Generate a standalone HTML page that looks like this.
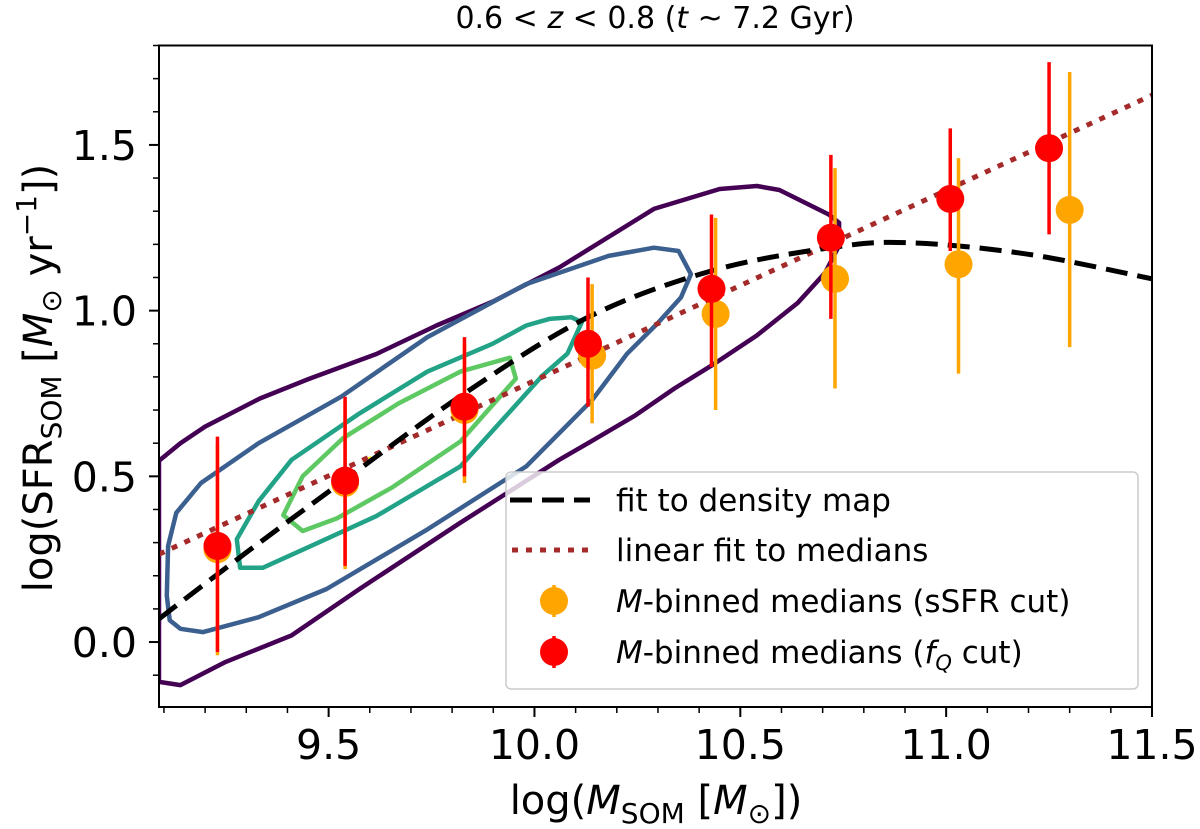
<!DOCTYPE html>
<html><head><meta charset="utf-8"><style>
html,body{margin:0;padding:0;background:#fff;}
svg{display:block;font-family:"DejaVu Sans","Liberation Sans",sans-serif;}
</style></head><body>
<svg id="chart" width="1200" height="829" viewBox="0 0 1200 829" xmlns="http://www.w3.org/2000/svg">
<g id="contours"></g>
<g id="fits"></g>
<g id="points"></g>
<g id="axes"></g>
<g id="legend"></g>
<text x="655" y="28" text-anchor="middle" font-size="30">0.6 &lt; <tspan font-style="italic">z</tspan> &lt; 0.8 (<tspan font-style="italic">t</tspan> ~ 7.2 Gyr)</text>
<text x="656" y="814" text-anchor="middle" font-size="40">log(<tspan font-style="italic">M</tspan><tspan font-size="28" dy="9">SOM</tspan><tspan dy="-9"> [</tspan><tspan font-style="italic">M</tspan><tspan font-size="28" dy="9">⊙</tspan><tspan dy="-9">])</tspan></text>
<text transform="translate(52,378) rotate(-90)" text-anchor="middle" font-size="40">log(SFR<tspan font-size="28" dy="9">SOM</tspan><tspan dy="-9"> [</tspan><tspan font-style="italic">M</tspan><tspan font-size="28" dy="9">⊙</tspan><tspan dy="-9"> yr</tspan><tspan font-size="28" dy="-16">−1</tspan><tspan dy="16">])</tspan></text>
</svg>
<script>
// ---- data ----
const binX = [9.23, 9.54, 9.83, 10.13, 10.43, 10.72, 11.01, 11.25];
const redY = [0.29, 0.487, 0.71, 0.90, 1.066, 1.22, 1.337, 1.49];
const redLo = [-0.03, 0.23, 0.50, 0.71, 0.83, 0.975, 1.18, 1.23];
const redHi = [0.62, 0.74, 0.92, 1.10, 1.29, 1.47, 1.55, 1.75];
const orangeX = [9.23, 9.54, 9.83, 10.14, 10.44, 10.73, 11.03, 11.30];
const orangeY = [0.28, 0.48, 0.70, 0.864, 0.99, 1.096, 1.14, 1.304];
const orangeLo = [-0.04, 0.22, 0.48, 0.66, 0.70, 0.765, 0.81, 0.89];
const orangeHi = [0.60, 0.73, 0.90, 1.08, 1.28, 1.43, 1.46, 1.72];
const fitX = [9.088, 9.3, 9.54, 9.83, 10.13, 10.43, 10.72, 10.91, 11.2, 11.5];
const fitY = [0.07, 0.27, 0.49, 0.75, 0.98, 1.12, 1.19, 1.205, 1.17, 1.096];
const linX = [9.088, 11.5];
const linY = [0.265, 1.65];
const purpleX = [9.088,9.14,9.2,9.333,9.454,9.616,9.762,9.898,10.06,10.29,10.45,10.54,10.595,10.715,10.74,10.74,10.706,10.64,10.54,10.43,10.34,10.245,10.13,10.06,9.82,9.575,9.41,9.25,9.14,9.088];
const purpleY = [0.547,0.60,0.65,0.735,0.795,0.869,0.955,1.027,1.13,1.307,1.367,1.376,1.364,1.29,1.265,1.196,1.114,1.024,0.925,0.834,0.765,0.684,0.60,0.55,0.36,0.16,0.02,-0.06,-0.13,-0.12];
const blueX = [9.107,9.114,9.14,9.195,9.33,9.495,9.74,9.98,10.14,10.225,10.30,10.356,10.38,10.35,10.29,10.18,9.98,9.74,9.53,9.33,9.19,9.13,9.11];
const blueY = [0.14,0.066,0.04,0.03,0.075,0.16,0.34,0.53,0.73,0.87,0.963,1.04,1.11,1.18,1.19,1.165,1.08,0.92,0.74,0.60,0.48,0.39,0.29];
const tealX = [9.285,9.34,9.454,9.616,9.82,10.02,10.08,10.115,10.09,10.036,9.98,9.898,9.74,9.575,9.41,9.33,9.277];
const tealY = [0.224,0.224,0.288,0.38,0.53,0.805,0.87,0.965,0.98,0.975,0.955,0.90,0.816,0.69,0.55,0.425,0.31];
const greenX = [9.39,9.437,9.52,9.655,9.82,9.955,9.94,9.82,9.67,9.535,9.437];
const greenY = [0.383,0.335,0.373,0.467,0.605,0.795,0.858,0.816,0.72,0.615,0.50];
const yellowX = [9.585, 9.605];
const yellowY = [0.545, 0.555];
const xTicks = [9.5, 10.0, 10.5, 11.0, 11.5];
const xTickLabels = ["9.5", "10.0", "10.5", "11.0", "11.5"];
const yTicks = [0.0, 0.5, 1.0, 1.5];
const yTickLabels = ["0.0", "0.5", "1.0", "1.5"];

// ---- scales ----
const X0 = 159, X1 = 1152, Y0 = 707, Y1 = 45.5;
const xmin = 9.088, xmax = 11.5, ymin = -0.196, ymax = 1.80;
function sx(v){ return X0 + (v - xmin) / (xmax - xmin) * (X1 - X0); }
function sy(v){ return Y0 - (v - ymin) / (ymax - ymin) * (Y0 - Y1); }
const NS = "http://www.w3.org/2000/svg";
function mk(tag, parent, attrs){ const e = document.createElementNS(NS, tag); for (const k in attrs) e.setAttribute(k, attrs[k]); parent.appendChild(e); return e; }

const defs = mk('defs', document.getElementById('chart'), {});
const cp = mk('clipPath', defs, {id:'plotclip'});
mk('rect', cp, {x:X0, y:Y1, width:X1-X0, height:Y0-Y1});

// contours
const cg = document.getElementById('contours');
cg.setAttribute('clip-path','url(#plotclip)');
const contourSets = [[purpleX,purpleY,'#440154','contour-outer'],[blueX,blueY,'#3b5f8f','contour-second'],[tealX,tealY,'#22a387','contour-third'],[greenX,greenY,'#5ec962','contour-inner']];
contourSets.forEach(function(c){
  const pts = c[0].map(function(v,i){ return sx(v).toFixed(1)+','+sy(c[1][i]).toFixed(1); }).join(' ');
  const p = mk('polygon', cg, {points:pts, fill:'none', stroke:c[2], 'stroke-width':4.5, 'stroke-linejoin':'round'});
  
  
});
const yl = mk('polyline', cg, {points: yellowX.map(function(v,i){return sx(v)+','+sy(yellowY[i]);}).join(' '), fill:'none', stroke:'#fde725', 'stroke-width':4.5});



// fits
const fg = document.getElementById('fits');
fg.setAttribute('clip-path','url(#plotclip)');
function smoothPath(xs, ys){
  const P = xs.map(function(v,i){ return [sx(v), sy(ys[i])]; });
  let d = 'M'+P[0][0]+','+P[0][1];
  for (let i=0;i<P.length-1;i++){
    const p0 = P[Math.max(0,i-1)], p1 = P[i], p2 = P[i+1], p3 = P[Math.min(P.length-1,i+2)];
    const c1 = [p1[0]+(p2[0]-p0[0])/6, p1[1]+(p2[1]-p0[1])/6];
    const c2 = [p2[0]-(p3[0]-p1[0])/6, p2[1]-(p3[1]-p1[1])/6];
    d += ' C'+c1[0]+','+c1[1]+' '+c2[0]+','+c2[1]+' '+p2[0]+','+p2[1];
  }
  return d;
}
const lin = mk('line', fg, {x1:sx(linX[0]), y1:sy(linY[0]), x2:sx(linX[1]), y2:sy(linY[1]), stroke:'#a52a2a', 'stroke-width':5, 'stroke-dasharray':'6 8'});


const fit = mk('path', fg, {d:smoothPath(fitX, fitY), fill:'none', stroke:'#000', 'stroke-width':5, 'stroke-dasharray':'22 10'});



// points
const pg = document.getElementById('points');
orangeX.forEach(function(v,i){
  const b = mk('line', pg, {x1:sx(v), x2:sx(v), y1:sy(orangeLo[i]), y2:sy(orangeHi[i]), stroke:'#ffa500', 'stroke-width':3.5});
  
  
  const c = mk('ellipse', pg, {cx:sx(v), cy:sy(orangeY[i]), rx:14, ry:14, fill:'#ffa500'});
  
  
});
binX.forEach(function(v,i){
  const b = mk('line', pg, {x1:sx(v), x2:sx(v), y1:sy(redLo[i]), y2:sy(redHi[i]), stroke:'#ff0000', 'stroke-width':3.5});
  
  
  const c = mk('ellipse', pg, {cx:sx(v), cy:sy(redY[i]), rx:14, ry:14, fill:'#ff0000'});
  
  
});

// axes
const ag = document.getElementById('axes');
const frame = mk('rect', ag, {x:X0, y:Y1, width:X1-X0, height:Y0-Y1, fill:'none', stroke:'#000', 'stroke-width':2});


for (let k=91;k<=115;k++){
  const v = k/10, major = (k%5===0);
  mk('line', ag, {x1:sx(v), x2:sx(v), y1:Y0, y2:Y0+(major?10:6), stroke:'#000', 'stroke-width':major?2:1.5});
}
for (let k=-1;k<=18;k++){
  const v = k/10, major = (k%5===0);
  mk('line', ag, {x1:X0, x2:X0-(major?10:6), y1:sy(v), y2:sy(v), stroke:'#000', 'stroke-width':major?2:1.5});
}
xTicks.forEach(function(v,i){
  const t = mk('text', ag, {x:sx(v), y:759, 'text-anchor':'middle', 'font-size':41});
  t.textContent = xTickLabels[i];
  
  
});
yTicks.forEach(function(v,i){
  const t = mk('text', ag, {x:137, y:sy(v)+15, 'text-anchor':'end', 'font-size':41});
  t.textContent = yTickLabels[i];
  
  
});

// legend
const lg = document.getElementById('legend');
mk('rect', lg, {x:506, y:472, width:632, height:217, rx:5, fill:'#fff', 'fill-opacity':0.8, stroke:'#cccccc', 'stroke-width':1.5});
const rows = [500, 550, 601, 652];
mk('line', lg, {x1:510, x2:590, y1:rows[0], y2:rows[0], stroke:'#000', 'stroke-width':5, 'stroke-dasharray':'22 10'});
mk('line', lg, {x1:512, x2:590, y1:rows[1], y2:rows[1], stroke:'#a52a2a', 'stroke-width':5, 'stroke-dasharray':'6 8'});
mk('line', lg, {x1:554, x2:554, y1:rows[2]-16, y2:rows[2]+16, stroke:'#ffa500', 'stroke-width':3.5});
mk('ellipse', lg, {cx:554, cy:rows[2], rx:14, ry:14, fill:'#ffa500'});
mk('line', lg, {x1:554, x2:554, y1:rows[3]-16, y2:rows[3]+16, stroke:'#ff0000', 'stroke-width':3.5});
mk('ellipse', lg, {cx:554, cy:rows[3], rx:14, ry:14, fill:'#ff0000'});
const labels = [
  'fit to density map',
  'linear fit to medians',
  '<tspan font-style="italic">M</tspan>-binned medians (sSFR cut)',
  '<tspan font-style="italic">M</tspan>-binned medians (<tspan font-style="italic">f</tspan><tspan font-style="italic" font-size="21" dy="7">Q</tspan><tspan dy="-7"> cut)</tspan>'
];
const names = ['legend-density-fit','legend-linear-fit','legend-sssfr-medians','legend-fq-medians'];
labels.forEach(function(s,i){
  const t = mk('text', lg, {x:616, y:rows[i]+11, 'font-size':31});
  t.innerHTML = s;
  
  
});
</script>
</body></html>
